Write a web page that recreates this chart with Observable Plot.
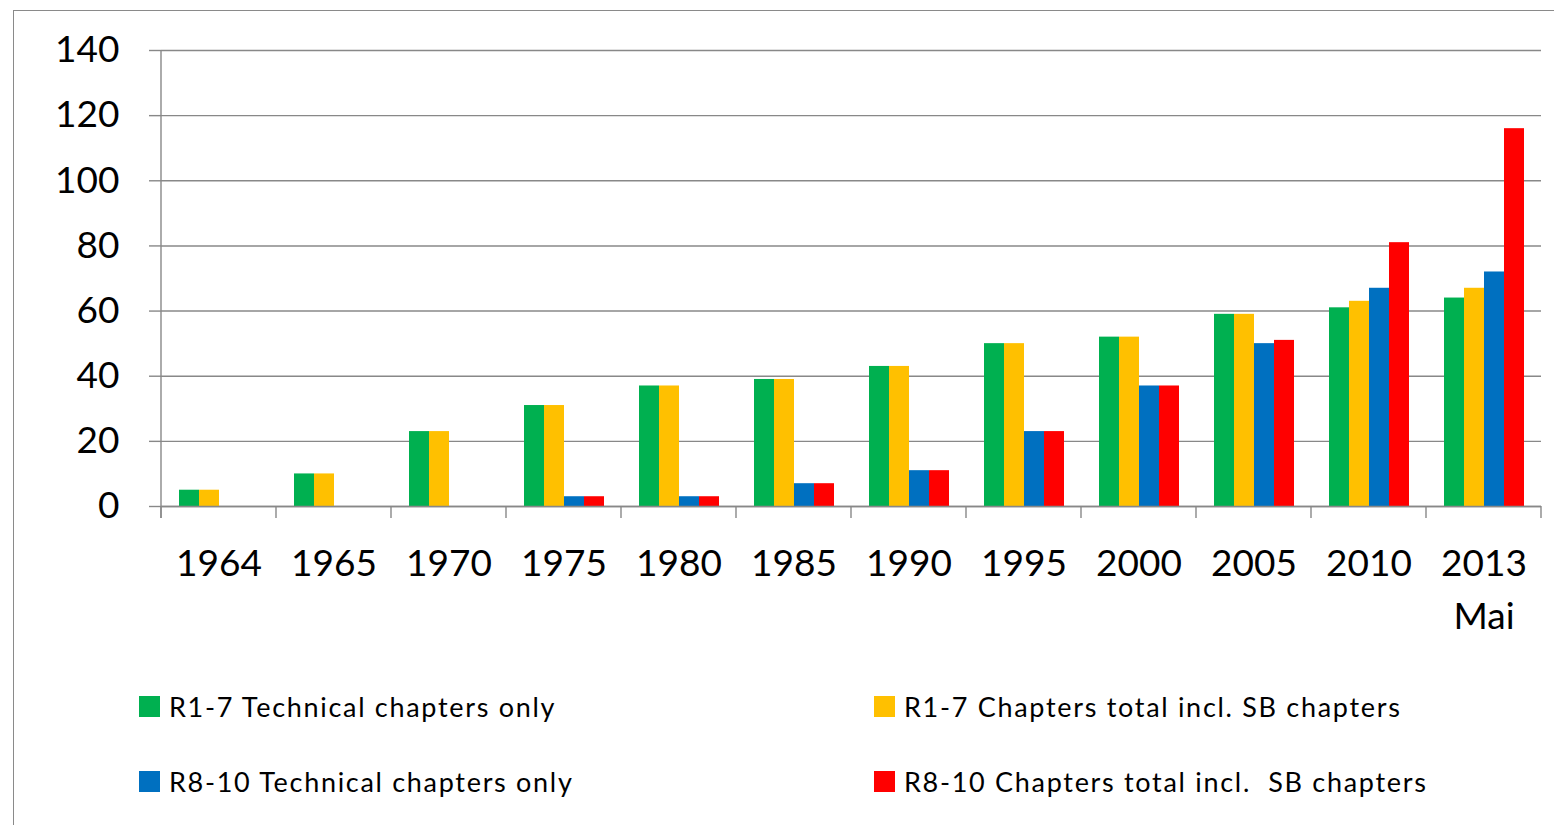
<!DOCTYPE html>
<html><head><meta charset="utf-8">
<script src="https://cdn.jsdelivr.net/npm/d3@7"></script>
<script src="https://cdn.jsdelivr.net/npm/@observablehq/plot@0.6"></script>
<style>
html,body{margin:0;padding:0;background:#fff;overflow:hidden;}
#wrap{position:relative;width:1554px;height:825px;font-family:Lato,"Noto Sans",sans-serif;}
#border{position:absolute;left:13px;top:10px;width:1700px;height:900px;border-left:1.3px solid #8a8a8a;border-top:1.3px solid #8a8a8a;box-sizing:border-box;}
#chart{position:absolute;left:0;top:0;}
.sw{position:absolute;width:21px;height:21px;}
.lt{position:absolute;font-size:27px;line-height:27px;letter-spacing:1.7px;color:#000;white-space:pre;}
</style></head>
<body>
<div id="wrap"><div id="border"></div><div id="chart"></div><div id="legend"></div></div>
<script>
const years = ["1964","1965","1970","1975","1980","1985","1990","1995","2000","2005","2010","2013 Mai"];
const tickLabels = ["1964","1965","1970","1975","1980","1985","1990","1995","2000","2005","2010","2013\nMai"];
const seriesNames = ["R1-7 Technical chapters only","R1-7 Chapters total incl. SB chapters","R8-10 Technical chapters only","R8-10 Chapters total incl.  SB chapters"];
const seriesColors = ["#00B050","#FFC000","#0070C0","#FF0000"];
const r17Technical = [5,10,23,31,37,39,43,50,52,59,61,64];
const r17Total     = [5,10,23,31,37,39,43,50,52,59,63,67];
const r810Technical= [0,0,0,3,3,7,11,23,37,50,67,72];
const r810Total    = [0,0,0,3,3,7,11,23,37,51,81,116];
const yTicks = [0,20,40,60,80,100,120,140];

const seriesValues = [r17Technical, r17Total, r810Technical, r810Total];
const table = [];
years.forEach((yr, i) => seriesNames.forEach((s, k) => table.push({year: yr, series: s, value: seriesValues[k][i]})));

const gridColor = "#888888";
const plot = Plot.plot({
  width: 1554, height: 650,
  marginLeft: 159, marginRight: 12, marginTop: 50, marginBottom: 144,
  style: {fontFamily: "Lato, 'Noto Sans', sans-serif", background: "transparent", color: "#000", overflow: "visible"},
  fx: {domain: years, padding: 0, label: null},
  x: {domain: seriesNames, paddingInner: 0, paddingOuter: 0.74, axis: null},
  y: {domain: [0, 140], label: null},
  color: {domain: seriesNames, range: seriesColors},
  marks: [
    Plot.gridY(yTicks, {stroke: gridColor, strokeOpacity: 1, strokeWidth: 1.4}),
    Plot.barY(table, {fx: "year", x: "series", y: "value", fill: "series"}),
    Plot.ruleY([0], {stroke: gridColor, strokeWidth: 1.4}),
    Plot.axisY(yTicks, {tickSize: 12, tickPadding: 30, fontSize: 37, stroke: gridColor, strokeWidth: 1.4, label: null}),
    Plot.axisFx({anchor: "bottom", tickSize: 0, tickPadding: 32, fontSize: 37, lineHeight: 1.43, tickFormat: d => tickLabels[years.indexOf(d)], label: null})
  ]
});
document.getElementById("chart").appendChild(plot);

// category boundary ticks (Excel style) using the library's scales
const fx = plot.scale("fx"), ys = plot.scale("y");
const y0 = ys.apply(0), yTop = ys.apply(140);
const bounds = years.map(d => fx.apply(d));
bounds.push(fx.apply(years[years.length - 1]) + fx.bandwidth);
const svg = d3.select(plot.tagName.toLowerCase() === "svg" ? plot : plot.querySelector("svg"));
const g = svg.append("g").attr("stroke", gridColor).attr("stroke-width", 1.4);
bounds.forEach(b => g.append("line").attr("x1", b).attr("x2", b).attr("y1", y0).attr("y2", y0 + 12));
g.append("line").attr("x1", bounds[0]).attr("x2", bounds[0]).attr("y1", yTop).attr("y2", y0 + 12);

// legend
const legend = document.getElementById("legend");
const legPos = [[139, 696], [874, 696], [139, 771], [874, 771]];
seriesNames.forEach((s, k) => {
  const [lx, ly] = legPos[k];
  const sw = document.createElement("div");
  sw.className = "sw"; sw.style.left = lx + "px"; sw.style.top = ly + "px"; sw.style.background = seriesColors[k];
  const t = document.createElement("div");
  t.className = "lt"; t.style.left = (lx + 30) + "px"; t.style.top = (ly - 3) + "px"; t.textContent = s;
  legend.appendChild(sw); legend.appendChild(t);
});
</script>
</body></html>
